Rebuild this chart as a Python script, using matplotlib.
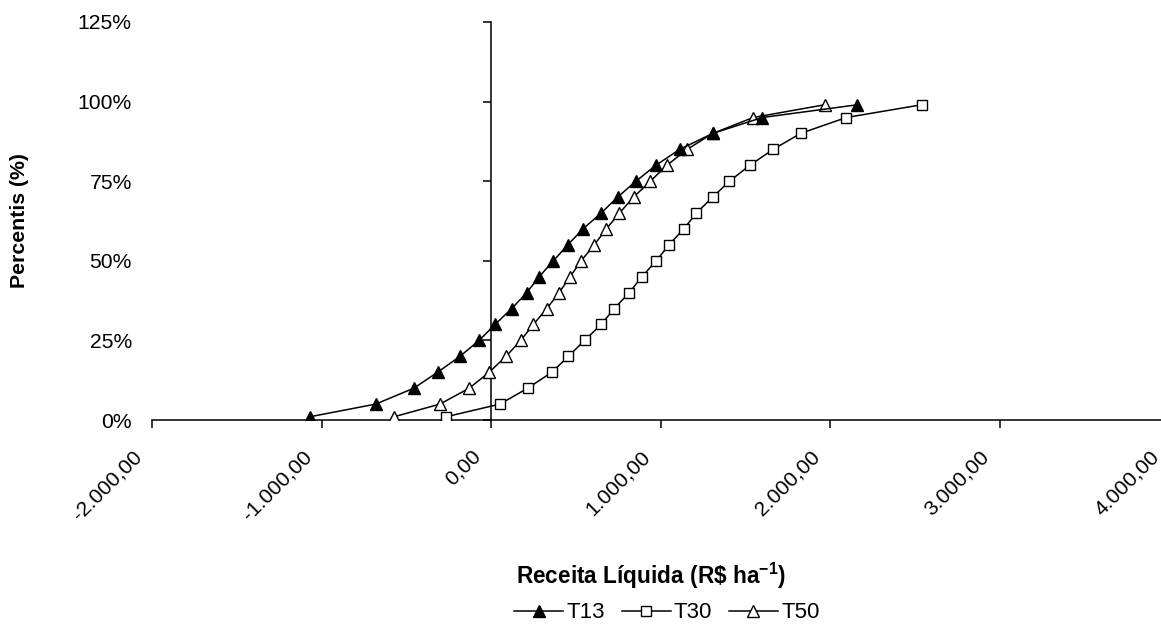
import matplotlib
matplotlib.use('Agg')
import matplotlib.pyplot as plt
import matplotlib.transforms as mtransforms

plt.rcParams['font.family'] = ['Liberation Sans', 'DejaVu Sans']
plt.rcParams['mathtext.fontset'] = 'custom'
plt.rcParams['mathtext.rm'] = 'Liberation Sans'
plt.rcParams['mathtext.bf'] = 'Liberation Sans:bold'

# percentis (fraction) and receita liquida (R$ ha-1)
percentis = [0.01, 0.05, 0.10, 0.15, 0.20, 0.25, 0.30, 0.35, 0.40, 0.45, 0.50,
             0.55, 0.60, 0.65, 0.70, 0.75, 0.80, 0.85, 0.90, 0.95, 0.99]
t13 = [-1070, -680, -455, -315, -183, -70, 24, 122, 211, 284, 368,
       453, 542, 650, 747, 855, 973, 1113, 1308, 1600, 2161]
t30 = [-266, 53, 217, 359, 457, 552, 650, 727, 816, 890, 975,
       1050, 1137, 1212, 1308, 1407, 1527, 1665, 1826, 2096, 2540]
t50 = [-573, -301, -128, -11, 89, 175, 250, 329, 402, 467, 532,
       609, 680, 758, 841, 940, 1038, 1157, 1308, 1547, 1968]

x_ticks = [-2000, -1000, 0, 1000, 2000, 3000, 4000]
x_tick_labels = ['-2.000,00', '-1.000,00', '0,00', '1.000,00',
                 '2.000,00', '3.000,00', '4.000,00']
y_ticks = [0, 0.25, 0.5, 0.75, 1.0, 1.25]
y_tick_labels = ['0%', '25%', '50%', '75%', '100%', '125%']

W, H = 1161, 626
fig = plt.figure(figsize=(W / 100, H / 100), dpi=100)
ax = fig.add_axes([152 / W, (H - 420) / H, 1017 / W, 398 / H])

lw = 1.1
ax.plot(t30, percentis, color='black', lw=lw, marker='s', ms=6.8,
        mfc='white', mec='black', mew=1.0, label='T30', zorder=3)
ax.plot(t50, percentis, color='black', lw=lw, marker='^', ms=8.5,
        mfc='white', mec='black', mew=1.0, label='T50', zorder=4)
ax.plot(t13, percentis, color='black', lw=lw, marker='^', ms=8.5,
        mfc='black', mec='black', mew=1.0, label='T13', zorder=5)

ax.set_xlim(-2000, 4000)
ax.set_ylim(0, 1.25)

# axes cross at x = 0
ax.spines['top'].set_visible(False)
ax.spines['right'].set_visible(False)
ax.spines['left'].set_position(('data', 0))
for s in ('left', 'bottom'):
    ax.spines[s].set_linewidth(1.1)
    ax.spines[s].set_zorder(2)

ax.set_yticks(y_ticks)
ax.tick_params(axis='y', direction='out', length=6, width=1.1, labelleft=False)

ax.set_xticks(x_ticks)
ax.set_xticklabels(x_tick_labels, rotation=45, ha='right', va='center',
                   rotation_mode='anchor', fontsize=15.2)
ax.tick_params(axis='x', direction='out', length=6, width=1.1, pad=18)
shift = mtransforms.ScaledTranslation(-13 / 100, 0, fig.dpi_scale_trans)
for lab in ax.get_xticklabels():
    lab.set_transform(lab.get_transform() + shift)

# percent labels sit at the left edge of the plot area
sec = ax.secondary_yaxis('left')
sec.spines['left'].set_visible(False)
sec.set_yticks(y_ticks)
sec.set_yticklabels(y_tick_labels, fontsize=15.2)
sec.tick_params(length=0, pad=14.5)

fig.text(20 / W, 1 - 221 / H, 'Percentis (%)', rotation=90, ha='center',
         va='center', fontsize=15.3, fontweight='bold')
fig.text(651 / W, 1 - 576 / H, r'Receita Líquida (R\$ ha$^{\mathbf{-1}}$)',
         ha='center', va='center', fontsize=16.3, fontweight='bold')

handles, labels = ax.get_legend_handles_labels()
order = [labels.index(n) for n in ('T13', 'T30', 'T50')]
fig.legend([handles[i] for i in order], [labels[i] for i in order],
           loc='center', bbox_to_anchor=(667 / W, 1 - 613 / H), ncol=3,
           frameon=False, fontsize=16, handlelength=2.2, handletextpad=0.15,
           columnspacing=0.75, borderpad=0, borderaxespad=0)

fig.savefig('out.png', dpi=100)
